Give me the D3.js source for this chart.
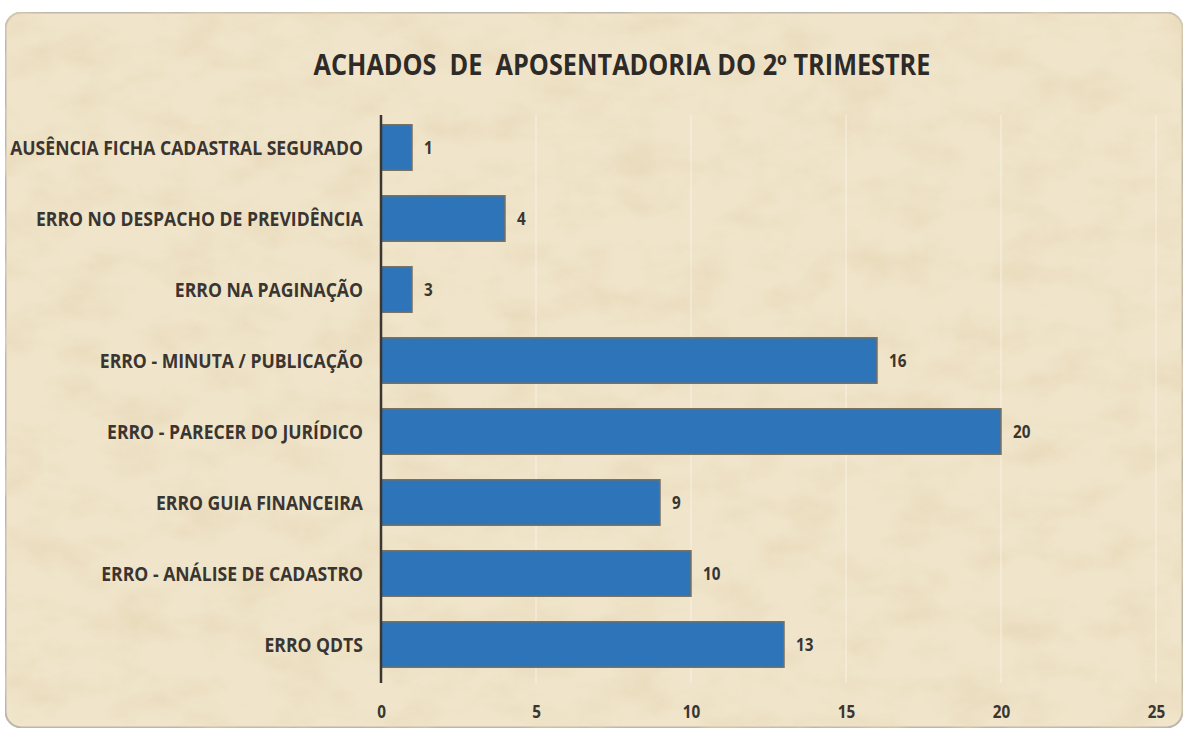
<!DOCTYPE html>
<html>
<head>
<meta charset="utf-8">
<script src="https://cdn.jsdelivr.net/npm/d3@7"></script>
<style>
  body { margin: 0; background: #fff; }
  svg { display: block; }
</style>
</head>
<body>
<svg width="1184" height="729"></svg>
<script>
// data
var categories = [
    "AUSÊNCIA FICHA CADASTRAL SEGURADO",
    "ERRO NO DESPACHO DE PREVIDÊNCIA",
    "ERRO NA PAGINAÇÃO",
    "ERRO - MINUTA / PUBLICAÇÃO",
    "ERRO - PARECER DO JURÍDICO",
    "ERRO GUIA FINANCEIRA",
    "ERRO - ANÁLISE DE CADASTRO",
    "ERRO QDTS"
];
var values = [1, 4, 1, 16, 20, 9, 10, 13];
// the picture labels the paginação bar "3" although it is drawn to 1
var valueLabels = [1, 4, 3, 16, 20, 9, 10, 13];
var xTicks = [0, 5, 10, 15, 20, 25];
var title = "ACHADOS  DE  APOSENTADORIA DO 2º TRIMESTRE";

var svg = d3.select("svg");
var font = "'Open Sans', 'DejaVu Sans', sans-serif";
var ink = "#3a3530";

// parchment background
var defs = svg.append("defs");
var f = defs.append("filter").attr("id", "paper")
    .attr("x", 0).attr("y", 0).attr("width", "100%").attr("height", "100%");
f.append("feTurbulence").attr("type", "fractalNoise")
    .attr("baseFrequency", "0.018 0.028").attr("numOctaves", 6).attr("seed", 11).attr("result", "noise");
f.append("feColorMatrix").attr("in", "noise").attr("type", "matrix")
    .attr("values", "0 0 0 0 0.80  0 0 0 0 0.68  0 0 0 0 0.47  1.5 0 0 0 -0.62")
    .attr("result", "tint");
f.append("feComposite").attr("in", "tint").attr("in2", "SourceGraphic").attr("operator", "in").attr("result", "spots");
f.append("feMerge").selectAll("feMergeNode")
    .data(["SourceGraphic", "spots"]).enter().append("feMergeNode").attr("in", d => d);

svg.append("rect")
    .attr("x", 5.5).attr("y", 12.5).attr("width", 1177).attr("height", 715)
    .attr("rx", 16).attr("ry", 16)
    .attr("fill", "#f0e5cb")
    .attr("stroke", "#bdb6aa").attr("stroke-width", 2)
    .attr("filter", "url(#paper)");

var x = d3.scaleLinear().domain([0, 25]).range([381, 1156]);
var y = d3.scaleBand().domain(categories).range([112, 680])
    .paddingInner(0.36).paddingOuter(0.18);

// gridlines
svg.append("g").selectAll("line")
    .data(xTicks.slice(1)).enter().append("line")
    .attr("x1", d => x(d)).attr("x2", d => x(d))
    .attr("y1", 115).attr("y2", 683)
    .attr("stroke", "#f6f1e4").attr("stroke-opacity", 0.8).attr("stroke-width", 1.2);

// bars
svg.append("g").selectAll("rect")
    .data(values).enter().append("rect")
    .attr("x", x(0))
    .attr("y", (d, i) => y(categories[i]))
    .attr("width", d => x(d) - x(0))
    .attr("height", y.bandwidth())
    .attr("fill", "#2e74b8")
    .attr("stroke", "#78705f").attr("stroke-width", 1.5);

// value labels
var vl = svg.append("g").selectAll("text")
    .data(values).enter().append("text")
    .attr("x", d => x(d) + 12)
    .attr("y", (d, i) => y(categories[i]) + y.bandwidth() / 2)
    .attr("dy", "0.36em")
    .attr("font-family", font).attr("font-weight", "bold").attr("font-size", 18)
    .attr("fill", ink)
    .text((d, i) => valueLabels[i]);
vl.attr("transform", function() {
    var cx = +this.getAttribute("x");
    return "translate(" + cx + ",0) scale(0.85,1) translate(" + (-cx) + ",0)";
});

// y axis line, no ticks
var yAxis = svg.append("g").attr("transform", "translate(" + x(0) + ",0)")
    .call(d3.axisLeft(y).tickSize(0));
yAxis.select(".domain").attr("d", "M0,115V683").attr("stroke", "#3b3631").attr("stroke-width", 2.5);
var catLabels = yAxis.selectAll(".tick text")
    .attr("font-family", font).attr("font-weight", "bold").attr("font-size", 20)
    .attr("dy", "0.36em")
    .attr("fill", ink);

// squeeze the labels so the longest one spans like the reference
var longest = d3.max(catLabels.nodes(), n => n.getComputedTextLength());
var sx = 353 / longest;
catLabels.attr("transform", "scale(" + sx + ",1)")
    .attr("x", -18 / sx);

// x axis ticks
var xAxis = svg.append("g").attr("transform", "translate(0,700)")
    .call(d3.axisBottom(x).tickValues(xTicks).tickSize(0).tickPadding(5));
xAxis.select(".domain").remove();
xAxis.selectAll(".tick text")
    .attr("font-family", font).attr("font-weight", "bold").attr("font-size", 18)
    .attr("fill", ink)
    .attr("transform", "scale(0.85,1)");

// title
var t = svg.append("text")
    .attr("x", 622).attr("y", 75)
    .attr("text-anchor", "middle")
    .attr("font-family", font).attr("font-weight", "bold").attr("font-size", 28)
    .attr("fill", "#2e2a27")
    .style("white-space", "pre")
    .text(title);
var tw = t.node().getComputedTextLength();
t.attr("transform", "translate(622,0) scale(" + (617 / tw) + ",1) translate(-622,0)");
</script>
</body>
</html>
